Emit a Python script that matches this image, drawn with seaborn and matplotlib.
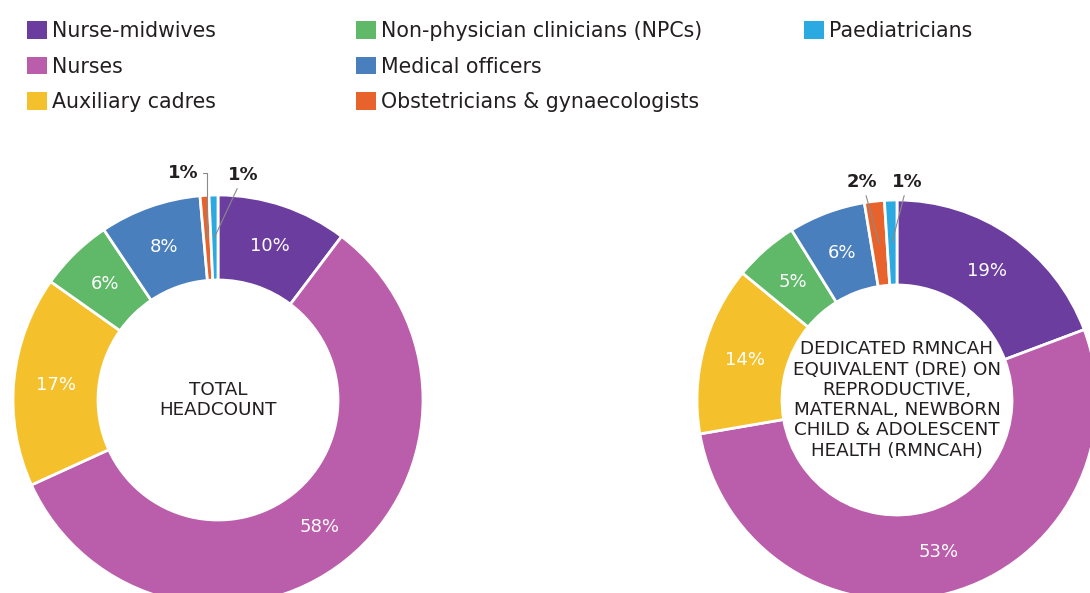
import numpy as np
import matplotlib
matplotlib.use("Agg")
import matplotlib.pyplot as plt
import seaborn as sns
from matplotlib.patches import Patch

# Datos
categories = ["Nurse-midwives", "Nurses", "Auxiliary cadres",
              "Non-physician clinicians (NPCs)", "Medical officers",
              "Obstetricians & gynaecologists", "Paediatricians"]
headcount_share = [10.3, 57.9, 16.6, 5.8, 8.0, 0.7, 0.7]
dre_share = [19.2, 52.8, 13.6, 5.2, 6.2, 1.6, 1.0]
colors = ["#6A3D9F", "#BA5EAB", "#F4C12C", "#5FB968", "#4A7FBE", "#E8622B", "#2BA9E1"]
headcount_title = "TOTAL\nHEADCOUNT"
dre_title = ("DEDICATED RMNCAH\nEQUIVALENT (DRE) ON\nREPRODUCTIVE,\n"
             "MATERNAL, NEWBORN\nCHILD & ADOLESCENT\nHEALTH (RMNCAH)")

sns.set_theme(style="white")
plt.rcParams["font.family"] = ["DejaVu Sans"]
text_dark = "#231F20"

W, H = 1090, 593
fig = plt.figure(figsize=(W / 100, H / 100), dpi=100)
ax = fig.add_axes([0, 0, 1, 1])


def donut(values, center, radius, title, small_offsets, small_styles, title_size):
    ring = 85
    wedges, _ = ax.pie(values, colors=colors, startangle=90, counterclock=False,
                       radius=radius, center=center,
                       wedgeprops=dict(width=ring, edgecolor="white", linewidth=2))
    mid_r = radius - ring / 2
    k = 0
    for w, v in zip(wedges, values):
        ang = np.deg2rad((w.theta1 + w.theta2) / 2)
        px = center[0] + mid_r * np.cos(ang)
        py = center[1] + mid_r * np.sin(ang)
        label = f"{v:.0f}%"
        if v >= 3:
            ax.text(px, py, label, ha="center", va="center", color="white", fontsize=13)
        else:
            ox = center[0] + radius * np.cos(ang) + small_offsets[k][0]
            oy = center[1] + radius + small_offsets[k][1]
            ax.annotate(label, xy=(px, py), xytext=(ox, oy), ha="center", va="center",
                        fontsize=13, fontweight="bold", color=text_dark,
                        arrowprops=dict(arrowstyle="-", color="#8A8A8A", lw=0.8,
                                        shrinkA=1, shrinkB=0,
                                        connectionstyle=small_styles[k]))
            k += 1
    ax.text(center[0], center[1], title, ha="center", va="center", color=text_dark,
            fontsize=title_size, linespacing=1.16)


donut(headcount_share, (218, H - 400), 205, headcount_title,
      [(-21, 22), (30, 20)], ["angle,angleA=0,angleB=90,rad=0", "arc3"], 13.2)
donut(dre_share, (897, H - 400), 200, dre_title,
      [(-12, 18), (17, 18)], ["arc3", "arc3"], 13.2)

ax.set_xlim(0, W)
ax.set_ylim(0, H)
ax.set_aspect("equal")
ax.axis("off")

# Leyenda en tres columnas
handles = [Patch(facecolor=c, edgecolor="none") for c in colors]
col_groups = [(0, 3), (3, 6), (6, 7)]
col_x = [27, 356, 804]
for (a, b), x in zip(col_groups, col_x):
    leg = fig.legend(handles[a:b], categories[a:b], loc="upper left",
                     bbox_to_anchor=(x / W, 1 - 21 / H), frameon=False,
                     fontsize=14.8, borderpad=0, borderaxespad=0,
                     handlelength=0.95, handleheight=0.95, handletextpad=0.25,
                     labelspacing=0.76)
    for t in leg.get_texts():
        t.set_color(text_dark)

fig.savefig("out.png", dpi=100, facecolor="white")
